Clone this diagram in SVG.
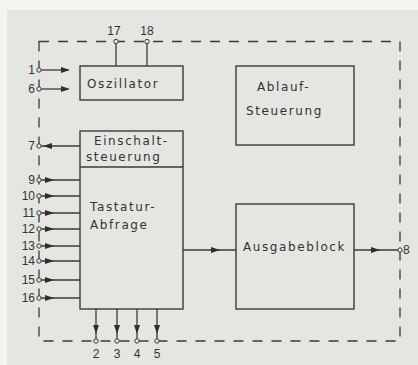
<svg xmlns="http://www.w3.org/2000/svg" width="418" height="365" viewBox="0 0 418 365">
<style>
.bg{fill:#e5e5e2}
.box{fill:none;stroke:#3a3a3a;stroke-width:1.4}
.ln{fill:none;stroke:#3a3a3a;stroke-width:1.3}
.dash{fill:none;stroke:#3a3a3a;stroke-width:1.3;stroke-dasharray:10 9}
.pin{fill:#e5e5e2;stroke:#3a3a3a;stroke-width:1}
.ah{fill:#2e2e2e}
.t{font-family:"DejaVu Sans","Liberation Sans",sans-serif;font-size:12px;fill:#333;letter-spacing:1.6px}
.n{font-family:"Liberation Sans",sans-serif;font-size:12px;fill:#333}
</style>
<defs>
<path id="ar" d="M0,0 L-9,-3 L-9,3 Z" class="ah"/>
</defs>
<rect width="418" height="365" fill="#f4f4f2"/>
<rect x="7" y="10" width="411" height="355" class="bg"/>
<path class="dash" d="M39,41.5 H400 V341 H39 Z"/>
<g id="oszillator">
<rect class="box" x="80" y="66" width="103" height="34"/>
<text class="t" x="87" y="88">Oszillator</text>
</g>
<g id="ablaufsteuerung">
<rect class="box" x="236" y="66" width="118" height="79"/>
<text class="t" x="257" y="91">Ablauf-</text>
<text class="t" x="246" y="115">Steuerung</text>
</g>
<g id="tastaturabfrage">
<rect class="box" x="80" y="131" width="103" height="178"/>
<line class="box" x1="80" y1="167" x2="183" y2="167"/>
<text class="t" x="94" y="145">Einschalt-</text>
<text class="t" x="86" y="161">steuerung</text>
<text class="t" x="90" y="211">Tastatur-</text>
<text class="t" x="90" y="229">Abfrage</text>
</g>
<g id="ausgabeblock">
<rect class="box" x="236" y="204" width="118" height="105"/>
<text class="t" x="243" y="251">Ausgabeblock</text>
</g>
<g id="connectors">
<line class="ln" x1="116" y1="41.5" x2="116" y2="66"/>
<line class="ln" x1="147" y1="41.5" x2="147" y2="66"/>
<line class="ln" x1="39" y1="70" x2="68" y2="70"/><use href="#ar" x="70" y="70"/>
<line class="ln" x1="39" y1="89" x2="68" y2="89"/><use href="#ar" x="70" y="89"/>
<line class="ln" x1="41" y1="146" x2="80" y2="146"/><use href="#ar" transform="translate(43,146) rotate(180)"/>
<line class="ln" x1="39" y1="180" x2="80" y2="180"/><use href="#ar" x="54" y="180"/>
<line class="ln" x1="39" y1="196" x2="80" y2="196"/><use href="#ar" x="54" y="196"/>
<line class="ln" x1="39" y1="213" x2="80" y2="213"/><use href="#ar" x="54" y="213"/>
<line class="ln" x1="39" y1="229" x2="80" y2="229"/><use href="#ar" x="54" y="229"/>
<line class="ln" x1="39" y1="246" x2="80" y2="246"/><use href="#ar" x="54" y="246"/>
<line class="ln" x1="39" y1="261" x2="80" y2="261"/><use href="#ar" x="54" y="261"/>
<line class="ln" x1="39" y1="280" x2="80" y2="280"/><use href="#ar" x="54" y="280"/>
<line class="ln" x1="39" y1="298" x2="80" y2="298"/><use href="#ar" x="54" y="298"/>
<line class="ln" x1="96" y1="309" x2="96" y2="341"/><use href="#ar" transform="translate(96,334) rotate(90)"/>
<line class="ln" x1="117" y1="309" x2="117" y2="341"/><use href="#ar" transform="translate(117,334) rotate(90)"/>
<line class="ln" x1="137" y1="309" x2="137" y2="341"/><use href="#ar" transform="translate(137,334) rotate(90)"/>
<line class="ln" x1="157" y1="309" x2="157" y2="341"/><use href="#ar" transform="translate(157,334) rotate(90)"/>
<line class="ln" x1="183" y1="250" x2="236" y2="250"/><use href="#ar" x="220" y="250"/>
<line class="ln" x1="354" y1="250" x2="399" y2="250"/><use href="#ar" x="380" y="250"/>
</g>
<g id="pins">
<circle class="pin" cx="116" cy="41.5" r="2.2"/>
<circle class="pin" cx="147" cy="41.5" r="2.2"/>
<circle class="pin" cx="39" cy="70" r="2.2"/>
<circle class="pin" cx="39" cy="89" r="2.2"/>
<circle class="pin" cx="39" cy="146" r="2.2"/>
<circle class="pin" cx="39" cy="180" r="2.2"/>
<circle class="pin" cx="39" cy="196" r="2.2"/>
<circle class="pin" cx="39" cy="213" r="2.2"/>
<circle class="pin" cx="39" cy="229" r="2.2"/>
<circle class="pin" cx="39" cy="246" r="2.2"/>
<circle class="pin" cx="39" cy="261" r="2.2"/>
<circle class="pin" cx="39" cy="280" r="2.2"/>
<circle class="pin" cx="39" cy="298" r="2.2"/>
<circle class="pin" cx="96" cy="341" r="2.2"/>
<circle class="pin" cx="117" cy="341" r="2.2"/>
<circle class="pin" cx="137" cy="341" r="2.2"/>
<circle class="pin" cx="157" cy="341" r="2.2"/>
<circle class="pin" cx="400" cy="250" r="2.2"/>
<text class="n" x="114" y="35" text-anchor="middle">17</text>
<text class="n" x="147" y="35" text-anchor="middle">18</text>
<text class="n" x="35" y="74" text-anchor="end">1</text>
<text class="n" x="35" y="93" text-anchor="end">6</text>
<text class="n" x="35" y="150" text-anchor="end">7</text>
<text class="n" x="35" y="184" text-anchor="end">9</text>
<text class="n" x="35" y="200" text-anchor="end">10</text>
<text class="n" x="35" y="217" text-anchor="end">11</text>
<text class="n" x="35" y="233" text-anchor="end">12</text>
<text class="n" x="35" y="250" text-anchor="end">13</text>
<text class="n" x="35" y="265" text-anchor="end">14</text>
<text class="n" x="35" y="284" text-anchor="end">15</text>
<text class="n" x="35" y="302" text-anchor="end">16</text>
<text class="n" x="96" y="358" text-anchor="middle">2</text>
<text class="n" x="117" y="358" text-anchor="middle">3</text>
<text class="n" x="137" y="358" text-anchor="middle">4</text>
<text class="n" x="157" y="358" text-anchor="middle">5</text>
<text class="n" x="403" y="254">8</text>
</g>
</svg>
